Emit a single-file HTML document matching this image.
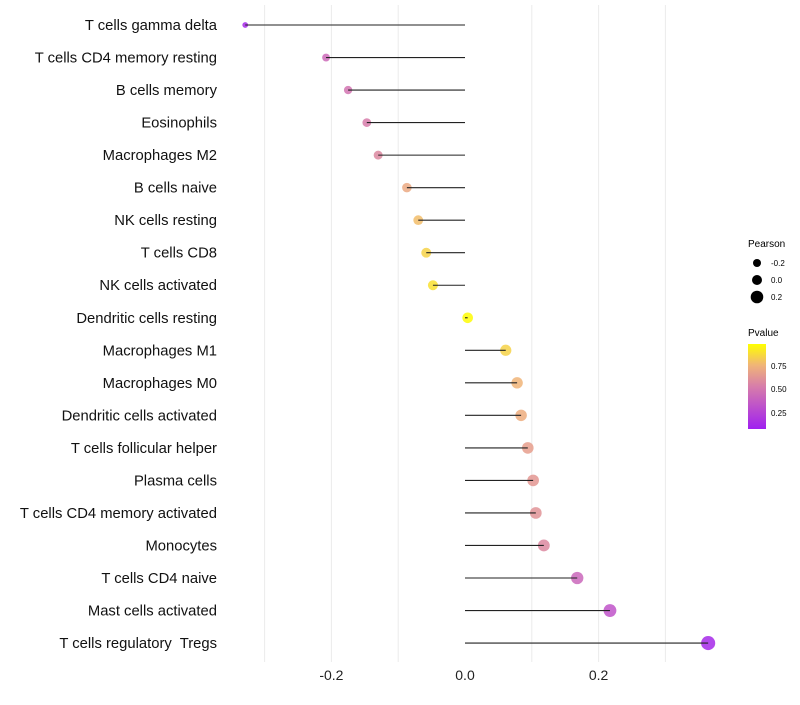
<!DOCTYPE html>
<html><head><meta charset="utf-8"><style>
body{margin:0;background:#fff;font-family:"Liberation Sans",sans-serif}
svg text{font-family:"Liberation Sans",sans-serif;white-space:pre}
</style></head><body>
<svg id="chart" width="800" height="700" xmlns="http://www.w3.org/2000/svg">
<defs><linearGradient id="pg" x1="0" y1="1" x2="0" y2="0">
<stop offset="0" stop-color="#a020f0"/><stop offset="0.5" stop-color="#d77daa"/><stop offset="0.75" stop-color="#f0b478"/><stop offset="1" stop-color="#ffff00"/></linearGradient></defs>
<g id="grid"></g><g id="marks"></g><g id="labels"></g>
<g>
<text x="748" y="247" font-size="10">Pearson</text>
<circle cx="757" cy="263" r="4" fill="#000"/><text x="771" y="266" font-size="8">-0.2</text>
<circle cx="757" cy="280" r="5" fill="#000"/><text x="771" y="283" font-size="8">0.0</text>
<circle cx="757" cy="297" r="6.3" fill="#000"/><text x="771" y="300" font-size="8">0.2</text>
<text x="748" y="336" font-size="10">Pvalue</text>
<rect x="748" y="344" width="18" height="85" fill="url(#pg)"/>
<text x="771" y="369" font-size="8">0.75</text><text x="771" y="392" font-size="8">0.50</text><text x="771" y="416" font-size="8">0.25</text>
</g>
</svg>
<script>
const cells=["T cells gamma delta","T cells CD4 memory resting","B cells memory","Eosinophils","Macrophages M2","B cells naive","NK cells resting","T cells CD8","NK cells activated","Dendritic cells resting","Macrophages M1","Macrophages M0","Dendritic cells activated","T cells follicular helper","Plasma cells","T cells CD4 memory activated","Monocytes","T cells CD4 naive","Mast cells activated","T cells regulatory  Tregs"];
const pearson=[-0.329,-0.208,-0.175,-0.147,-0.130,-0.087,-0.070,-0.058,-0.048,0.004,0.061,0.078,0.084,0.094,0.102,0.106,0.118,0.168,0.217,0.364];
const pvalue=[0.05,0.4,0.45,0.5,0.55,0.7,0.78,0.85,0.9,0.99,0.85,0.75,0.72,0.65,0.62,0.6,0.55,0.38,0.28,0.05];
const xTicks=[-0.2,0.0,0.2];
const xTickLabels=["-0.2","0.0","0.2"];
const gridVals=[-0.3,-0.2,-0.1,0.1,0.2,0.3];
const NS="http://www.w3.org/2000/svg";
const x=v=>465+v*668;
const y=i=>25+i*32.53;
const r=v=>Math.sqrt(Math.max(4,28+60*v));
function col(p){const s=[[0,[160,32,240]],[0.5,[215,125,170]],[0.75,[240,180,120]],[1,[255,255,0]]];
for(let k=1;k<s.length;k++){if(p<=s[k][0]){const t=(p-s[k-1][0])/(s[k][0]-s[k-1][0]);const a=s[k-1][1],b=s[k][1];return `rgb(${a.map((c,j)=>Math.round(c+(b[j]-c)*t)).join(',')})`;}}return "rgb(255,255,0)";}
function mk(tag,at,parent){const e=document.createElementNS(NS,tag);for(const k in at)e.setAttribute(k,at[k]);parent.appendChild(e);return e;}
const G=document.getElementById('grid'),M=document.getElementById('marks'),L=document.getElementById('labels');
gridVals.forEach(v=>{const l=mk('line',{x1:x(v),x2:x(v),y1:5,y2:662,stroke:'#ebebeb','stroke-width':1},G);

});
xTicks.forEach((v,i)=>{const t=mk('text',{x:x(v),y:680,'font-size':14,'text-anchor':'middle',fill:'#222'},L);t.textContent=xTickLabels[i];

});
cells.forEach((c,i)=>{
const d=mk('circle',{cx:x(pearson[i]),cy:y(i),r:r(pearson[i]),fill:col(pvalue[i]),'fill-opacity':0.85},M);


const l=mk('line',{x1:x(0),x2:x(pearson[i]),y1:y(i),y2:y(i),stroke:'#222','stroke-width':1.1},M);


const t=mk('text',{x:217,y:y(i)+5,'font-size':14.8,'text-anchor':'end',fill:'#111'},L);t.textContent=c;


});
</script>
</body></html>
